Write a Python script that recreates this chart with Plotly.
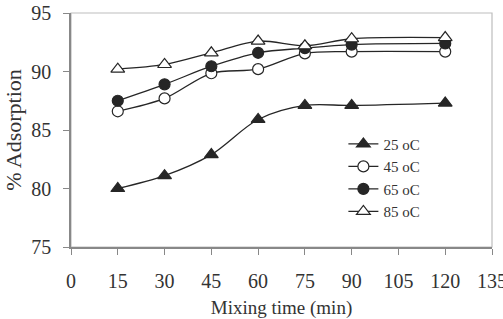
import plotly.graph_objects as go

mixing_time = [15, 30, 45, 60, 75, 90, 120]
ads_25 = [80.0, 81.1, 82.9, 85.9, 87.1, 87.1, 87.3]
ads_45 = [86.6, 87.7, 89.85, 90.2, 91.55, 91.7, 91.7]
ads_65 = [87.5, 88.9, 90.45, 91.6, 92.0, 92.3, 92.4]
ads_85 = [90.2, 90.6, 91.6, 92.6, 92.2, 92.8, 92.9]
series_names = ["25 oC", "45 oC", "65 oC", "85 oC"]
x_ticks = [0, 15, 30, 45, 60, 75, 90, 105, 120, 135]
y_ticks = [75, 80, 85, 90, 95]

FONT = "Liberation Serif, Times New Roman, serif"
LINE = "#262626"

styles = [
    dict(symbol="triangle-up", color=LINE, line=dict(color=LINE, width=1.2)),
    dict(symbol="circle", color="white", line=dict(color=LINE, width=1.2)),
    dict(symbol="circle", color=LINE, line=dict(color=LINE, width=1.2)),
    dict(symbol="triangle-up", color="white", line=dict(color=LINE, width=1.2)),
]
sizes = [12, 11, 11, 12]

fig = go.Figure()
for name, vals, st, sz in zip(series_names, [ads_25, ads_45, ads_65, ads_85], styles, sizes):
    fig.add_trace(go.Scatter(
        x=mixing_time, y=vals, name=name, mode="lines+markers",
        line=dict(color=LINE, width=1.3, shape="spline", smoothing=0.9),
        marker=dict(size=sz, **st),
    ))

fig.add_shape(type="rect", xref="paper", yref="paper", x0=0, y0=0, x1=1, y1=1,
              line=dict(color="#bdbdbd", width=1.2), layer="below")

fig.update_layout(
    width=503, height=319,
    margin=dict(l=71, r=11, t=13, b=72, autoexpand=False),
    paper_bgcolor="white", plot_bgcolor="white",
    font=dict(family=FONT, color="#333333", size=20),
    showlegend=True,
    legend=dict(x=0.647, y=0.51, xanchor="left", yanchor="top",
                bgcolor="rgba(0,0,0,0)", font=dict(size=15, family=FONT, color="#333333"),
                tracegroupgap=0, borderwidth=0),
    xaxis=dict(range=[0, 135], tickvals=x_ticks, ticks="outside", ticklen=6,
               tickcolor="#888888", showline=True, linecolor="#888888", linewidth=1.5,
               showgrid=False, zeroline=False, ticklabelstandoff=9,
               ticklabeloverflow="allow", automargin=False,
               title=dict(text="Mixing time (min)", font=dict(size=19, family=FONT), standoff=22)),
    yaxis=dict(range=[75, 95], tickvals=y_ticks, ticks="outside", ticklen=6,
               tickcolor="#888888", showline=True, linecolor="#888888", linewidth=1.5,
               showgrid=False, zeroline=False, ticklabelstandoff=8,
               ticklabeloverflow="allow", automargin=False,
               title=dict(text="% Adsorption", font=dict(size=22, family=FONT), standoff=4)),
)

fig.write_html("out.html")
